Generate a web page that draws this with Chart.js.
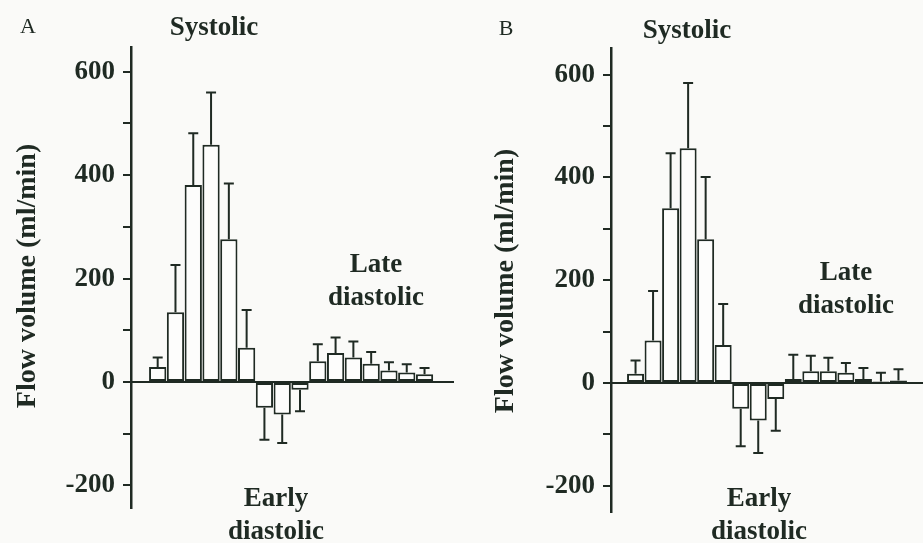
<!DOCTYPE html>
<html>
<head>
<meta charset="utf-8">
<script src="https://cdn.jsdelivr.net/npm/chart.js@4.4.1/dist/chart.umd.min.js"></script>
<style>
  body { margin: 0; background: #fafaf8; }
  canvas { position: absolute; top: 0; }
</style>
</head>
<body>
<canvas id="chartA" width="461" height="543" style="left:0"></canvas>
<canvas id="chartB" width="462" height="543" style="left:461px"></canvas>
<script>
// time bins through the cardiac cycle
const bins = [1, 2, 3, 4, 5, 6, 7, 8, 9, 10, 11, 12, 13, 14, 15, 16];

// panel A: mean flow volume and SD (ml/min)
const flowA = [29, 135, 381, 459, 276, 66, -50, -63, -15, 40, 56, 47, 35, 22, 18, 15];
const sdA = [18, 91, 100, 101, 108, 73, 62, 55, 42, 33, 30, 31, 23, 16, 16, 12];

// panel B
const flowB = [18, 83, 340, 457, 280, 74, -50, -73, -31, 8, 23, 23, 20, 8, 3, 5];
const sdB = [26, 96, 107, 127, 121, 80, 73, 63, 62, 47, 30, 26, 19, 21, 17, 22];

// tick marks every 100, labels every 200
const yTicks = [-200, -100, 0, 100, 200, 300, 400, 500, 600];
const yLabels = [-200, 0, 200, 400, 600];
const yTitle = "Flow volume (ml/min)";

const INK = "#1f2a23";
const FONT = "'Liberation Serif', 'Times New Roman', serif";

Chart.defaults.font.family = FONT;
Chart.defaults.color = INK;

// whiskers only on the side away from zero
const errorBars = {
  id: "errorBars",
  afterDatasetsDraw(chart, args, opts) {
    const ctx = chart.ctx;
    const y = chart.scales.y;
    const meta = chart.getDatasetMeta(0);
    const data = chart.data.datasets[0].data;
    ctx.save();
    ctx.strokeStyle = INK;
    ctx.lineWidth = 2;
    meta.data.forEach((bar, i) => {
      const v = data[i].y;
      const end = v >= 0 ? v + opts.sd[i] : v - opts.sd[i];
      const py = y.getPixelForValue(end);
      ctx.beginPath();
      ctx.moveTo(bar.x, bar.y);
      ctx.lineTo(bar.x, py);
      ctx.moveTo(bar.x - 5, py);
      ctx.lineTo(bar.x + 5, py);
      ctx.stroke();
    });
    ctx.restore();
  },
};

const notes = {
  id: "notes",
  afterDraw(chart, args, opts) {
    const ctx = chart.ctx;
    ctx.save();
    ctx.fillStyle = INK;
    ctx.textAlign = "center";
    opts.items.forEach((t) => {
      ctx.save();
      ctx.font = t.font;
      ctx.textBaseline = t.rotate ? "middle" : "alphabetic";
      ctx.translate(t.x, t.y);
      if (t.rotate) ctx.rotate(t.rotate);
      ctx.fillText(t.text, 0, 0);
      ctx.restore();
    });
    ctx.restore();
  },
};

function makePanel(canvasId, flow, sd, o) {
  const bold = "bold 27px " + FONT;
  return new Chart(document.getElementById(canvasId), {
    type: "bar",
    data: {
      datasets: [
        {
          data: bins.map((b, i) => ({ x: b, y: flow[i] })),
          backgroundColor: "#fdfdfc",
          borderColor: INK,
          borderWidth: 2,
          borderSkipped: false,
          barPercentage: 0.97,
          categoryPercentage: 1,
        },
      ],
    },
    plugins: [errorBars, notes],
    options: {
      responsive: false,
      animation: false,
      layout: { padding: o.padding },
      plugins: {
        legend: { display: false },
        tooltip: { enabled: false },
        errorBars: { sd: sd },
        notes: {
          items: [
            { text: o.letter, x: o.letterAt[0], y: o.letterAt[1], font: "22px " + FONT },
            { text: "Systolic", x: o.sys[0], y: o.sys[1], font: bold },
            { text: "Late", x: o.late[0], y: o.late[1], font: bold },
            { text: "diastolic", x: o.late[0], y: o.late[1] + 33, font: bold },
            { text: "Early", x: o.early[0], y: o.early[1], font: bold },
            { text: "diastolic", x: o.early[0], y: o.early[1] + 33, font: bold },
            { text: yTitle, x: o.title[0], y: o.title[1], font: "bold 28px " + FONT, rotate: -Math.PI / 2 },
          ],
        },
      },
      scales: {
        x: {
          type: "linear",
          position: { y: 0 },
          min: o.xRange[0],
          max: o.xRange[1],
          offset: false,
          z: 1,
          ticks: { display: false },
          grid: { display: true, drawOnChartArea: false, drawTicks: false },
          border: { display: true, color: INK, width: 2 },
        },
        y: {
          type: "linear",
          position: "left",
          min: o.yRange[0],
          max: o.yRange[1],
          afterFit: (scale) => {
            scale.width = o.axisX;
          },
          afterBuildTicks: (scale) => {
            scale.ticks = yTicks.map((v) => ({ value: v }));
          },
          ticks: {
            autoSkip: false,
            padding: 8,
            font: { size: 27, weight: "bold" },
            color: INK,
            callback: (v) => (yLabels.includes(v) ? String(v) : ""),
          },
          grid: { drawOnChartArea: false, drawTicks: true, tickLength: 8, color: INK, lineWidth: 2 },
          border: { display: true, color: INK, width: 2.5 },
        },
      },
    },
  });
}

makePanel("chartA", flowA, sdA, {
  padding: { left: 0, top: 47, right: 8, bottom: 35 },
  axisX: 131,
  xRange: [-0.5, 17.6],
  yRange: [-244, 648],
  letter: "A",
  letterAt: [28, 33],
  sys: [214, 35],
  late: [376, 272],
  early: [276, 506],
  title: [28, 276],
});

makePanel("chartB", flowB, sdB, {
  padding: { left: 0, top: 48, right: 0, bottom: 31 },
  axisX: 150,
  xRange: [-0.4, 17.4],
  yRange: [-251, 652],
  letter: "B",
  letterAt: [45, 35],
  sys: [226, 38],
  late: [385, 280],
  early: [298, 506],
  title: [45, 281],
});
</script>
</body>
</html>
